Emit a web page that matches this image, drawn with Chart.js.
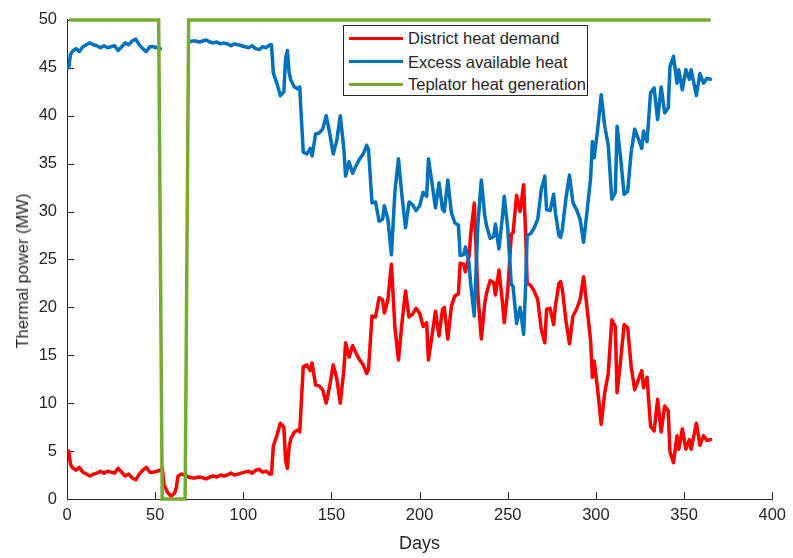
<!DOCTYPE html>
<html>
<head>
<meta charset="utf-8">
<title>Thermal power</title>
<script src="https://cdn.jsdelivr.net/npm/chart.js@4.4.1/dist/chart.umd.min.js"></script>
<style>
    html, body {
        margin: 0;
        padding: 0;
        background: #ffffff;
    }

    #wrap {
        position: relative;
        width: 793px;
        height: 558px;
    }

    .legend {
        position: absolute;
        left: 343px;
        top: 25px;
        width: 243px;
        height: 69px;
        border: 1px solid #262626;
        background: #ffffff;
        font: 16.5px "Liberation Sans", Arial, sans-serif;
        color: #262626;
    }

    .legend .swatch {
        position: absolute;
        left: 5px;
        width: 54px;
        height: 3px;
    }

    .legend .label {
        position: absolute;
        left: 64px;
        line-height: 20px;
        white-space: nowrap;
    }

    .y-title {
        position: absolute;
        left: 22px;
        top: 271px;
        transform: translate(-50%, -50%) rotate(-90deg);
        font: 16.5px "Liberation Sans", Arial, sans-serif;
        color: #262626;
        white-space: nowrap;
        line-height: 20px;
    }
</style>
</head>
<body>
<div id="wrap">
    <canvas id="chart" width="793" height="558"></canvas>
    <div class="y-title">Thermal power (MW)</div>
    <div class="legend" id="legend"></div>
</div>
<script>
const days = [
    1, 2, 3, 5, 7, 9, 11, 13, 15, 17, 19, 21, 23, 25, 27, 29, 31, 33, 35, 37, 39, 41, 43, 45, 47, 49, 51, 53,
    54, 55, 57, 59, 61, 62, 63, 65, 67,
    69, 71, 73, 75, 77, 79, 81, 83, 85, 87, 89, 91, 93, 95, 97, 99, 101, 103, 105, 107, 109, 111, 113, 115, 116,
    117, 119, 121, 123, 124, 125, 126, 127, 129, 131, 132, 134, 136, 138, 139, 141, 143, 145, 147, 149,
    151, 153, 155, 157, 158, 160, 162, 164, 166, 168, 170, 171, 173, 175, 177, 179, 180, 182, 184, 186, 188,
    190, 192, 194, 196, 198, 200, 202, 204, 205, 207, 209, 211, 213, 214, 216, 218, 220, 222, 223, 225, 226,
    228, 229, 231, 233, 235, 237, 238, 240, 242, 243, 245, 247, 248, 250, 252, 253, 255, 257, 259, 260, 261,
    263, 265, 267, 269, 271, 272, 274, 276, 277, 279, 280, 281, 283, 285, 287, 289, 291, 293, 295, 297, 298,
    299, 301, 303, 305, 307, 309, 311, 312, 314, 316, 318, 320, 322, 324, 326, 327, 329, 331, 333, 335, 337,
    339, 341, 342, 344, 346, 347, 349, 351, 353, 354, 356, 357, 359, 361, 363, 365,
];

// District heat demand (MW)
const demand = [
    5.0, 3.6, 3.3, 3.0, 3.3, 2.8, 2.6, 2.4, 2.6, 2.7, 2.9, 2.7, 2.9, 2.8, 2.7, 3.2, 2.8, 2.4, 2.6, 2.2, 2.0, 2.6, 3.0, 3.3, 2.8, 2.8, 2.9, 3.0,
    3.3, 1.5, 0.7, 0.3, 0.6, 1.2, 2.4, 2.6, 2.5,
    2.3, 2.2, 2.2, 2.3, 2.2, 2.1, 2.3, 2.4, 2.3, 2.5, 2.4, 2.5, 2.7, 2.5, 2.6, 2.7, 2.8, 2.9, 2.7, 3.0, 3.1, 2.8, 2.9, 2.6, 2.6,
    5.5, 6.6, 7.9, 7.5, 4.0, 3.2, 5.5, 6.3, 7.0, 7.2, 7.0, 13.8, 14.0, 13.4, 14.2, 11.9, 11.8, 11.4, 10.0, 11.8,
    14.0, 12.6, 10.0, 13.4, 16.3, 14.8, 16.0, 15.2, 14.5, 14.0, 13.1, 13.5, 19.1, 19.0, 21.0, 20.8, 19.4, 20.8, 24.5, 17.9, 14.5,
    18.4, 21.7, 19.0, 19.3, 19.9, 19.4, 18.0, 18.4, 14.5, 17.0, 19.6, 17.0, 19.8, 20.0, 16.7, 20.1, 21.2, 21.4, 24.6, 24.5, 23.7,
    25.3, 27.6, 30.9, 21.5, 16.7, 20.5, 21.5, 22.8, 22.6, 21.3, 23.9, 20.5, 18.4, 21.8, 27.6, 27.8, 31.7, 30.0, 32.8, 28.3, 22.5,
    22.3, 21.7, 20.8, 17.7, 16.3, 19.8, 19.9, 18.2, 20.1, 22.5, 22.7, 21.8, 18.6, 16.2, 19.1, 19.8, 20.8, 23.2, 19.9, 16.5, 12.7,
    14.4, 11.4, 7.8, 11.1, 13.1, 18.7, 18.0, 11.1, 14.4, 18.2, 17.9, 13.8, 11.4, 12.4, 13.4, 11.6, 12.7, 7.6, 7.1, 10.4, 7.0,
    9.7, 9.2, 4.9, 3.8, 6.6, 5.2, 7.3, 5.2, 6.2, 5.2, 7.0, 7.9, 5.6, 6.6, 6.1, 6.2,
];

// Excess available heat (MW), hidden while the Teplator is off
const excess = [
    45.0, 46.4, 46.7, 47.0, 46.7, 47.2, 47.4, 47.6, 47.4, 47.3, 47.1, 47.3, 47.1, 47.2, 47.3, 46.8, 47.2, 47.6, 47.4, 47.8, 48.0, 47.4, 47.0, 46.7, 47.2, 47.2, 47.1, 47.0,
    null, null, null, null, null, null, null, null, null,
    47.7, 47.8, 47.8, 47.7, 47.8, 47.9, 47.7, 47.6, 47.7, 47.5, 47.6, 47.5, 47.3, 47.5, 47.4, 47.3, 47.2, 47.1, 47.3, 47.0, 46.9, 47.2, 47.1, 47.4, 47.4,
    44.5, 43.4, 42.1, 42.5, 46.0, 46.8, 44.5, 43.7, 43.0, 42.8, 43.0, 36.2, 36.0, 36.6, 35.8, 38.1, 38.2, 38.6, 40.0, 38.2,
    36.0, 37.4, 40.0, 36.6, 33.7, 35.2, 34.0, 34.8, 35.5, 36.0, 36.9, 36.5, 30.9, 31.0, 29.0, 29.2, 30.6, 29.2, 25.5, 32.1, 35.5,
    31.6, 28.3, 31.0, 30.7, 30.1, 30.6, 32.0, 31.6, 35.5, 33.0, 30.4, 33.0, 30.2, 30.0, 33.3, 29.9, 28.8, 28.6, 25.4, 25.5, 26.3,
    24.7, 22.4, 19.1, 28.5, 33.3, 29.5, 28.5, 27.2, 27.4, 28.7, 26.1, 29.5, 31.6, 28.2, 22.4, 22.2, 18.3, 20.0, 17.2, 21.7, 27.5,
    27.7, 28.3, 29.2, 32.3, 33.7, 30.2, 30.1, 31.8, 29.9, 27.5, 27.3, 28.2, 31.4, 33.8, 30.9, 30.2, 29.2, 26.8, 30.1, 33.5, 37.3,
    35.6, 38.6, 42.2, 38.9, 36.9, 31.3, 32.0, 38.9, 35.6, 31.8, 32.1, 36.2, 38.6, 37.6, 36.6, 38.4, 37.3, 42.4, 42.9, 39.6, 43.0,
    40.3, 40.8, 45.1, 46.2, 43.4, 44.8, 42.7, 44.8, 43.8, 44.8, 43.0, 42.1, 44.4, 43.4, 43.9, 43.8,
];

// Teplator heat generation (MW)
const generationDays = [1, 52, 54, 67, 69, 365];
const generation = [50, 50, 0, 0, 50, 50];

const dayTicks = [0, 50, 100, 150, 200, 250, 300, 350, 400];
const powerTicks = [0, 5, 10, 15, 20, 25, 30, 35, 40, 45, 50];

const series = [
    { name: 'District heat demand', color: '#ff0000' },
    { name: 'Excess available heat', color: '#0072bd' },
    { name: 'Teplator heat generation', color: '#77ac30' },
];

const axisColor = '#262626';
const fontFamily = '"Liberation Sans", Arial, Helvetica, sans-serif';

function toPoints(xs, ys) {
    return xs.map((x, i) => ({ x, y: ys[i] }));
}

// MATLAB style tick marks that point into the plot
const inwardTicks = {
    id: 'inwardTicks',
    beforeDatasetsDraw(chart) {
        const { ctx, chartArea, scales } = chart;
        const length = 7;

        ctx.save();
        ctx.strokeStyle = axisColor;
        ctx.lineWidth = 1;
        ctx.beginPath();

        dayTicks.forEach((value) => {
            const px = Math.round(scales.x.getPixelForValue(value)) + 0.5;
            ctx.moveTo(px, chartArea.bottom);
            ctx.lineTo(px, chartArea.bottom - length);
        });

        powerTicks.forEach((value) => {
            const py = Math.round(scales.y.getPixelForValue(value)) + 0.5;
            ctx.moveTo(chartArea.left, py);
            ctx.lineTo(chartArea.left + length, py);
        });

        ctx.stroke();
        ctx.restore();
    },
};

function buildLegend() {
    const legend = document.getElementById('legend');
    const rowCenters = [12.3, 35.7, 58];

    series.forEach((item, index) => {
        const swatch = document.createElement('div');
        swatch.className = 'swatch';
        swatch.style.background = item.color;
        swatch.style.top = `${rowCenters[index] - 1.5}px`;

        const label = document.createElement('div');
        label.className = 'label';
        label.textContent = item.name;
        label.style.top = `${rowCenters[index] - 10}px`;

        legend.appendChild(swatch);
        legend.appendChild(label);
    });
}

document.addEventListener('DOMContentLoaded', () => {
    Chart.defaults.font.family = fontFamily;
    Chart.defaults.color = axisColor;

    const lineStyle = {
        borderWidth: 3.5,
        pointRadius: 0,
        tension: 0,
        borderJoinStyle: 'round',
        borderCapStyle: 'round',
        fill: false,
        clip: false,
    };

    new Chart(document.getElementById('chart').getContext('2d'), {
        type: 'line',
        data: {
            datasets: [
                {
                    ...lineStyle,
                    label: series[0].name,
                    data: toPoints(days, demand),
                    borderColor: series[0].color,
                    order: 2,
                },
                {
                    ...lineStyle,
                    label: series[1].name,
                    data: toPoints(days, excess),
                    borderColor: series[1].color,
                    spanGaps: false,
                    order: 1,
                },
                {
                    ...lineStyle,
                    label: series[2].name,
                    data: toPoints(generationDays, generation),
                    borderColor: series[2].color,
                    borderJoinStyle: 'miter',
                    borderCapStyle: 'butt',
                    order: 0,
                },
            ],
        },
        options: {
            responsive: false,
            animation: false,
            events: [],
            layout: {
                padding: {
                    left: 0,
                    top: 12,
                    right: 14,
                    bottom: 0,
                },
            },
            plugins: {
                legend: { display: false },
                tooltip: { enabled: false },
            },
            scales: {
                x: {
                    type: 'linear',
                    min: 0,
                    max: 400,
                    afterBuildTicks: (scale) => {
                        scale.ticks = dayTicks.map((value) => ({ value }));
                    },
                    afterFit: (scale) => {
                        scale.height = 59;
                    },
                    grid: {
                        display: false,
                        drawTicks: false,
                    },
                    border: {
                        display: true,
                        color: axisColor,
                        width: 1,
                    },
                    ticks: {
                        padding: 7,
                        maxRotation: 0,
                        color: axisColor,
                        font: { size: 16.5 },
                    },
                    title: {
                        display: true,
                        text: 'Days',
                        color: axisColor,
                        font: { size: 18 },
                        padding: { top: 0, bottom: 3 },
                    },
                },
                y: {
                    type: 'linear',
                    min: 0,
                    max: 50,
                    afterBuildTicks: (scale) => {
                        scale.ticks = powerTicks.map((value) => ({ value }));
                    },
                    afterFit: (scale) => {
                        scale.width = 67;
                    },
                    grid: {
                        display: false,
                        drawTicks: false,
                    },
                    border: {
                        display: true,
                        color: axisColor,
                        width: 1,
                    },
                    ticks: {
                        padding: 10,
                        color: axisColor,
                        font: { size: 16.5 },
                    },
                },
            },
        },
        plugins: [inwardTicks],
    });

    buildLegend();
});
</script>
</body>
</html>
